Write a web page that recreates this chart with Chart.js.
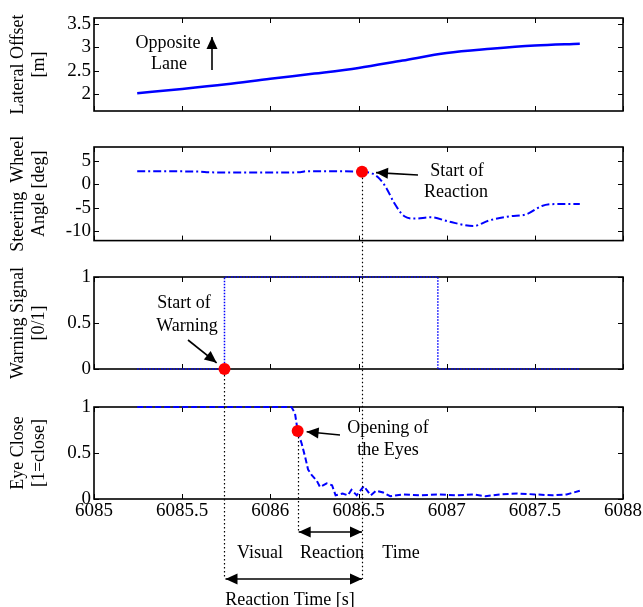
<!DOCTYPE html>
<html>
<head>
<meta charset="utf-8">
<script src="https://cdn.jsdelivr.net/npm/chart.js@4.4.1/dist/chart.umd.min.js"></script>
<style>
body { margin: 0; background: #fff; }
#wrap { position: relative; width: 643px; height: 607px; }
canvas { position: absolute; left: 0; }
</style>
</head>
<body>
<div id="wrap">
  <canvas id="c1" width="643" height="130" style="top:0px"></canvas>
  <canvas id="c2" width="643" height="125" style="top:130px"></canvas>
  <canvas id="c3" width="643" height="130" style="top:255px"></canvas>
  <canvas id="c4" width="643" height="150" style="top:385px"></canvas>
  <canvas id="ov" width="643" height="607" style="top:0px;pointer-events:none"></canvas>
</div>
<script>
// x axis
const xTicks = [6085, 6085.5, 6086, 6086.5, 6087, 6087.5, 6088];
const xTickLabels = ['6085', '6085.5', '6086', '6086.5', '6087', '6087.5', '6088'];

// lateral offset [m]
const tLat = [6085.245, 6085.5, 6085.75, 6086.0, 6086.25, 6086.5, 6086.75, 6087.0, 6087.25, 6087.5, 6087.755];
const lateral = [2.02, 2.11, 2.21, 2.33, 2.44, 2.56, 2.72, 2.88, 2.97, 3.04, 3.08];

// steering wheel angle [deg]
const tSteer = [6085.245, 6085.4, 6085.6, 6085.65, 6085.8, 6086.0, 6086.17, 6086.2, 6086.4, 6086.52,
  6086.58, 6086.62, 6086.66, 6086.70, 6086.76, 6086.82, 6086.91, 6087.01, 6087.15, 6087.24,
  6087.36, 6087.45, 6087.54, 6087.61, 6087.755];
const steer = [2.8, 2.8, 2.75, 2.6, 2.55, 2.55, 2.6, 2.8, 2.8, 2.7,
  2.3, 1.2, -0.9, -3.8, -6.8, -7.3, -7.0, -7.9, -8.9, -7.7,
  -6.8, -6.4, -4.6, -4.2, -4.2];

// warning signal [0/1]
const tWarn = [6085.245, 6085.74, 6086.95, 6087.755];
const warn = [0, 1, 0, 0];

// eye close [1=close]
const tEye = [6085.245, 6086.12, 6086.14, 6086.155, 6086.178, 6086.197, 6086.214, 6086.235, 6086.263, 6086.282,
  6086.32, 6086.35, 6086.37, 6086.41, 6086.44, 6086.46, 6086.49, 6086.53, 6086.57, 6086.6,
  6086.64, 6086.68, 6086.75, 6086.85, 6086.95, 6087.05, 6087.15, 6087.22, 6087.3, 6087.4,
  6087.5, 6087.6, 6087.68, 6087.72, 6087.755];
const eye = [1, 1, 0.93, 0.74, 0.6, 0.46, 0.32, 0.26, 0.2, 0.13,
  0.17, 0.15, 0.04, 0.06, 0.04, 0.1, 0.04, 0.14, 0.04, 0.09,
  0.07, 0.03, 0.05, 0.04, 0.05, 0.04, 0.05, 0.03, 0.05, 0.06,
  0.05, 0.04, 0.05, 0.07, 0.09];

// event markers
const tReaction = 6086.52, yReaction = 2.7;
const tWarning = 6085.74, yWarning = 0;
const tEyeOpen = 6086.155, yEyeOpen = 0.74;

const FONT = 'Liberation Serif';
Chart.defaults.font.family = FONT;
Chart.defaults.color = '#000';

const pts = (xs, ys) => xs.map((x, i) => ({ x: x, y: ys[i] }));

// box with inward ticks, drawn under the data
const boxPlugin = {
  id: 'box',
  beforeDatasetsDraw(chart) {
    const { ctx, chartArea: a, scales: { x, y } } = chart;
    ctx.save();
    ctx.strokeStyle = '#000';
    ctx.lineWidth = 1;
    ctx.beginPath();
    x.ticks.forEach(t => {
      const p = Math.round(x.getPixelForValue(t.value)) + 0.5;
      ctx.moveTo(p, a.bottom); ctx.lineTo(p, a.bottom - 5);
      ctx.moveTo(p, a.top); ctx.lineTo(p, a.top + 5);
    });
    y.ticks.forEach(t => {
      const p = Math.round(y.getPixelForValue(t.value)) + 0.5;
      ctx.moveTo(a.left, p); ctx.lineTo(a.left + 5, p);
      ctx.moveTo(a.right, p); ctx.lineTo(a.right - 5, p);
    });
    ctx.stroke();
    ctx.lineWidth = 1.6;
    ctx.strokeRect(a.left, a.top, a.right - a.left, a.bottom - a.top);
    ctx.restore();
  }
};

function marker(x, y) {
  return { data: [{ x: x, y: y }], showLine: false, pointRadius: 6, pointBackgroundColor: '#ff0000',
    pointBorderColor: '#ff0000', pointBorderWidth: 0, order: 0, clip: false };
}

function makeChart(id, o) {
  return new Chart(document.getElementById(id), {
    type: 'line',
    data: { datasets: o.datasets },
    options: {
      responsive: false,
      animation: false,
      events: [],
      layout: { padding: { left: 0, right: 20, top: o.padTop, bottom: o.padBottom } },
      plugins: { legend: { display: false }, tooltip: { enabled: false } },
      scales: {
        x: {
          type: 'linear', min: 6085, max: 6088,
          grid: { display: false, drawTicks: false },
          border: { display: false },
          afterBuildTicks: s => { s.ticks = xTicks.map(v => ({ value: v })); },
          afterFit: s => { if (o.xLabels) s.height = 30; },
          ticks: { display: !!o.xLabels, autoSkip: false, maxRotation: 0, padding: 1,
            font: { size: 19 }, callback: (v, i) => xTickLabels[i] }
        },
        y: {
          type: 'linear', min: o.ymin, max: o.ymax,
          grid: { display: false, drawTicks: false },
          border: { display: false },
          afterBuildTicks: s => { s.ticks = o.yTicks.map(v => ({ value: v })); },
          afterFit: s => { s.width = 94; },
          ticks: { autoSkip: false, padding: 3, font: { size: 19 }, callback: (v, i) => o.yLabels[i] },
          title: { display: true, text: o.title, font: { size: 18, lineHeight: 1.15 }, padding: { top: 8, bottom: 0 } }
        }
      }
    },
    plugins: [boxPlugin]
  });
}

const blue = '#0000ff';

const ch1 = makeChart('c1', {
  padTop: 18, padBottom: 19, ymin: 1.64, ymax: 3.63,
  yTicks: [2, 2.5, 3, 3.5], yLabels: ['2', '2.5', '3', '3.5'],
  title: ['Lateral Offset', '[m]'],
  datasets: [{ data: pts(tLat, lateral), borderColor: blue, borderWidth: 2.5, pointRadius: 0,
    cubicInterpolationMode: 'monotone', order: 1 }]
});

const ch2 = makeChart('c2', {
  padTop: 17, padBottom: 14, ymin: -12, ymax: 8,
  yTicks: [-10, -5, 0, 5], yLabels: ['-10', '-5', '0', '5'],
  title: ['Steering  Wheel', 'Angle [deg]'],
  datasets: [
    marker(tReaction, yReaction),
    { data: pts(tSteer, steer), borderColor: blue, borderWidth: 2, borderDash: [8, 3, 2, 3], pointRadius: 0,
      cubicInterpolationMode: 'monotone', order: 1 }
  ]
});

// Chart.js 'before' = rise at the point where the value changes
const ch3 = makeChart('c3', {
  padTop: 22, padBottom: 16, ymin: 0, ymax: 1,
  yTicks: [0, 0.5, 1], yLabels: ['0', '0.5', '1'],
  title: ['Warning Signal', '[0/1]'],
  datasets: [
    marker(tWarning, yWarning),
    { data: pts(tWarn, warn), borderColor: blue, borderWidth: 1.5, borderDash: [1.5, 1.5], pointRadius: 0,
      stepped: 'before', clip: false, order: 1 }
  ]
});

const ch4 = makeChart('c4', {
  padTop: 22, padBottom: 6, ymin: 0, ymax: 1, xLabels: true,
  yTicks: [0, 0.5, 1], yLabels: ['0', '0.5', '1'],
  title: ['Eye Close', '[1=close]'],
  datasets: [
    marker(tEyeOpen, yEyeOpen),
    { data: pts(tEye, eye), borderColor: blue, borderWidth: 2, borderDash: [6, 3], pointRadius: 0,
      tension: 0, clip: false, order: 1 }
  ]
});

// overlay: annotations spanning the panels
const ov = document.getElementById('ov').getContext('2d');
const offsets = new Map([[ch1, 0], [ch2, 130], [ch3, 255], [ch4, 385]]);
function at(chart, xv, yv) {
  return [chart.scales.x.getPixelForValue(xv), offsets.get(chart) + chart.scales.y.getPixelForValue(yv)];
}

function head(x, y, ang, len, hw) {
  ov.save();
  ov.translate(x, y);
  ov.rotate(ang);
  ov.beginPath();
  ov.moveTo(0, 0);
  ov.lineTo(-len, -hw);
  ov.lineTo(-len, hw);
  ov.closePath();
  ov.fill();
  ov.restore();
}

function arrow(x0, y0, x1, y1, gap, both) {
  const ang = Math.atan2(y1 - y0, x1 - x0);
  const d = Math.hypot(x1 - x0, y1 - y0);
  const ex = x0 + Math.cos(ang) * (d - gap), ey = y0 + Math.sin(ang) * (d - gap);
  ov.save();
  ov.strokeStyle = '#000'; ov.fillStyle = '#000'; ov.lineWidth = 1.6;
  ov.beginPath(); ov.moveTo(x0, y0); ov.lineTo(ex, ey); ov.stroke();
  head(ex, ey, ang, 12, 5.5);
  if (both) head(x0, y0, ang + Math.PI, 12, 5.5);
  ov.restore();
}

function label(t, x, y) {
  ov.fillText(t, x, y);
}

ov.font = '18px "' + FONT + '"';
ov.fillStyle = '#000';
ov.textAlign = 'center';
ov.textBaseline = 'middle';

// panel 1
label('Opposite', 168, 43);
label('Lane', 169, 64);
arrow(212, 70, 212, 37, 0, false);

// panel 2
const pR = at(ch2, tReaction, yReaction);
label('Start of', 457, 171);
label('Reaction', 456, 192);
arrow(418, 175, pR[0], pR[1], 14, false);

// panel 3
const pW = at(ch3, tWarning, yWarning);
label('Start of', 184, 303);
label('Warning', 187, 326);
arrow(188, 340, pW[0], pW[1], 10, false);

// panel 4
const pE = at(ch4, tEyeOpen, yEyeOpen);
label('Opening of', 388, 428);
label('the Eyes', 388, 450);
arrow(340, 435, pE[0], pE[1], 9, false);

// dotted guides
ov.save();
ov.strokeStyle = '#000';
ov.lineWidth = 1.2;
ov.setLineDash([1.5, 2.5]);
[[pW, 579], [pR, 579], [pE, 531]].forEach(([p, yEnd]) => {
  const x = Math.round(p[0]) + 0.5;
  ov.beginPath(); ov.moveTo(x, p[1] + 6); ov.lineTo(x, yEnd); ov.stroke();
});
ov.restore();

// reaction time arrows
arrow(pE[0] + 1, 532, pR[0], 532, 0, true);
arrow(pW[0] + 1, 579, pR[0], 579, 0, true);
label('Visual', 260, 553);
label('Reaction', 332, 553);
label('Time', 401, 553);
label('Reaction Time [s]', 290, 600);
</script>
</body>
</html>
